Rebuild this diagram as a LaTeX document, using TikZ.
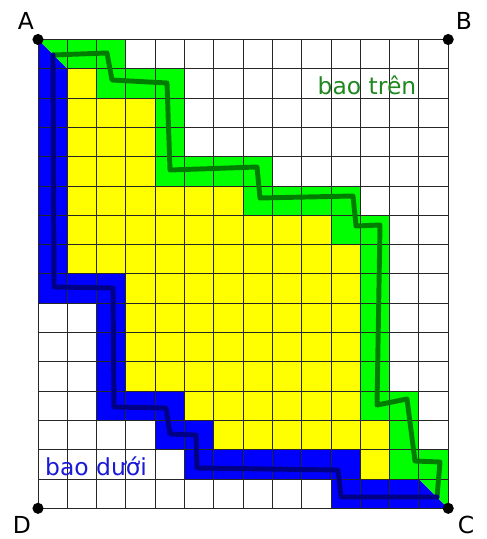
\documentclass[tikz,border=0pt]{standalone}
\usepackage{fontspec}
\setmainfont{DejaVu Sans}
\definecolor{cgreen}{RGB}{0,255,0}
\definecolor{cyellow}{RGB}{255,255,0}
\definecolor{cblue}{RGB}{0,0,255}
\definecolor{pathgreen}{RGB}{0,125,0}
\definecolor{pathblue}{RGB}{0,0,135}
\definecolor{txtgreen}{RGB}{30,135,30}
\definecolor{txtblue}{RGB}{25,25,215}
\tikzset{
  gridline/.style={draw=black!85, line width=0.8pt},
  cellgreen/.style={fill=cgreen},
  cellyellow/.style={fill=cyellow},
  cellblue/.style={fill=cblue},
  hullpath/.style={line width=4.2pt, line join=round, line cap=round},
  lbl/.style={font=\fontsize{20}{24}\selectfont, inner sep=0pt},
  cornerdot/.style={circle, fill=black, inner sep=0pt, minimum size=9.5pt}
}
\begin{document}
\begin{tikzpicture}[x=0.03cm, y=-0.03cm]
\useasboundingbox (0,0) rectangle (487,539);
\begin{scope}[shift={(38,39.5)}, scale=29.3]
  % green cells: row/from/to
  \foreach \r/\a/\b in {0/1/2, 1/2/4, 2/4/4, 3/4/4, 4/4/7, 5/7/10, 6/10/11, 7/11/11, 8/11/11, 9/11/11, 10/11/11, 11/11/11, 12/11/12, 13/12/12, 14/12/13}
    \fill[cellgreen] (\a,\r) rectangle (\b+1,\r+1);
  % yellow cells
  \foreach \r/\a/\b in {1/1/1, 2/1/3, 3/1/3, 4/1/3, 5/1/6, 6/1/9, 7/1/10, 8/3/10, 9/3/10, 10/3/10, 11/3/10, 12/5/10, 13/6/11, 14/11/11}
    \fill[cellyellow] (\a,\r) rectangle (\b+1,\r+1);
  % blue cells
  \foreach \r/\a/\b in {1/0/0, 2/0/0, 3/0/0, 4/0/0, 5/0/0, 6/0/0, 7/0/0, 8/0/2, 9/2/2, 10/2/2, 11/2/2, 12/2/4, 13/4/5, 14/5/10, 15/10/12}
    \fill[cellblue] (\a,\r) rectangle (\b+1,\r+1);
  % split corner cells
  \fill[cellblue] (0,0) -- (0,1) -- (1,1) -- cycle;
  \fill[cellgreen] (0,0) -- (1,0) -- (1,1) -- cycle;
  \fill[cellblue] (13,15) -- (13,16) -- (14,16) -- cycle;
  \fill[cellgreen] (13,15) -- (14,15) -- (14,16) -- cycle;
  % grid
  \foreach \i in {0,...,14} \draw[gridline] (\i,0) -- (\i,16);
  \foreach \j in {0,...,16} \draw[gridline] (0,\j) -- (14,\j);
\end{scope}
% upper hull (green)
\draw[hullpath, draw=pathgreen] (53,55) -- (107,53) -- (112,80) -- (167,83) -- (170,170) -- (257,167) -- (260,198) -- (353,196) -- (356,226) -- (380,225) -- (377,405) -- (407,399) -- (415,461) -- (440,462) -- (437,497);
% lower hull (blue)
\draw[hullpath, draw=pathblue] (53,55) -- (54,287) -- (113,288) -- (114,407) -- (166,408) -- (170,434) -- (196,435) -- (197,468) -- (338,470) -- (341,497) -- (437,497);
% corner points
\node[cornerdot] (pA) at (38,39.5) {};
\node[cornerdot] (pB) at (448.2,39.5) {};
\node[cornerdot] (pC) at (448.2,508.3) {};
\node[cornerdot] (pD) at (38,508.3) {};
\node[lbl] (A) at (26,21) {A};
\node[lbl] (B) at (464,21) {B};
\node[lbl] (C) at (466,525) {C};
\node[lbl] (D) at (22,525) {D};
\node[lbl, text=txtgreen] (up) at (367,85) {bao trên};
\node[lbl, text=txtblue] (low) at (96,466) {bao dưới};
\end{tikzpicture}
\end{document}
